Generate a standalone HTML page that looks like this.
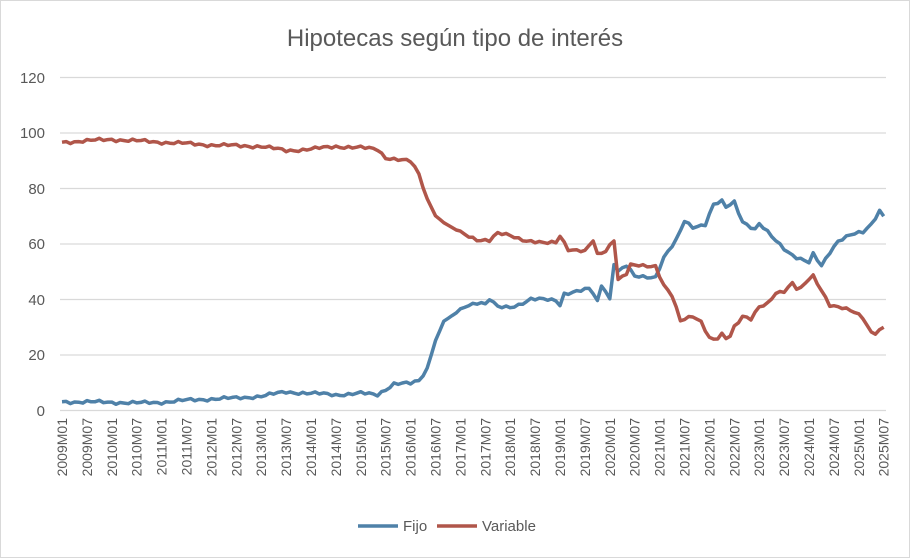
<!DOCTYPE html>
<html><head><meta charset="utf-8"><style>
body{margin:0;background:#fff;}
svg{display:block;font-family:"Liberation Sans",sans-serif;}
</style></head><body>
<svg id="s" width="910" height="558" xmlns="http://www.w3.org/2000/svg">
<rect x="0.5" y="0.5" width="909" height="557" fill="#fff" stroke="#d9d9d9"/>
<text x="455" y="46" text-anchor="middle" font-size="24" fill="#595959">Hipotecas según tipo de interés</text>
<g stroke="#d9d9d9" stroke-width="1.3">
<line x1="60" x2="886" y1="77.5" y2="77.5"/><line x1="60" x2="886" y1="133" y2="133"/>
<line x1="60" x2="886" y1="188.5" y2="188.5"/><line x1="60" x2="886" y1="244" y2="244"/>
<line x1="60" x2="886" y1="299.5" y2="299.5"/><line x1="60" x2="886" y1="355" y2="355"/>
<line x1="60" x2="886" y1="410.5" y2="410.5"/>
</g>
<g font-size="15" fill="#595959" text-anchor="end">
<text x="45" y="83">120</text><text x="45" y="138">100</text><text x="45" y="194">80</text>
<text x="45" y="249">60</text><text x="45" y="305">40</text><text x="45" y="360">20</text><text x="45" y="416">0</text>
</g>
<g id="xl" font-size="14" fill="#595959"></g>
<polyline id="f" fill="none" stroke="#4f81a8" stroke-width="3.5" stroke-linejoin="round"/>
<polyline id="v" fill="none" stroke="#b0564a" stroke-width="3.5" stroke-linejoin="round"/>
<line x1="358" x2="398" y1="526" y2="526" stroke="#4f81a8" stroke-width="3.5"/>
<text x="403" y="531" font-size="15" fill="#595959">Fijo</text>
<line x1="437" x2="477" y1="526" y2="526" stroke="#b0564a" stroke-width="3.5"/>
<text x="482" y="531" font-size="15" fill="#595959">Variable</text>
</svg>
<script>
var X=i=>62+4.15*i, Y=v=>410-2.775*v;
function interp(k){var out=[];for(var i=0;i<=198;i++){for(var j=0;j<k.length-1;j++){if(i>=k[j][0]&&i<=k[j+1][0]){var a=k[j],b=k[j+1],t=(b[0]==a[0])?0:(i-a[0])/(b[0]-a[0]);out.push(a[1]+(b[1]-a[1])*t);break;}}}return out;}
function noise(i,s){return Math.sin(i*2.3)*0.4*s+Math.sin(i*5.7)*0.3*s;}
var F=[[0,3],[12,2.8],[18,2.5],[24,2.8],[30,3.5],[36,4],[42,4.3],[48,5],[54,6.5],[60,6],[66,5.5],[72,6],[76,5.5],[80,9.5],[84,9.5],[86,10.5],[88,15],[90,25],[92,32],[96,36],[98,38],[101,39],[102,38],[103,40],[105,37],[108,37],[110,38],[113,40],[119,39.5],[120,38],[121,42],[125,43],[127,43.5],[128,42],[129,39],[130,45],[131,43],[132,40],[133,53],[134,50],[136,52],[138,48],[143,48],[145,55],[148,61],[150,68],[152,66],[155,67],[157,74],[159,75],[160,73],[162,75],[164,68],[167,65],[168,67],[172,61],[175,57],[177,55],[180,53],[181,56],[183,52],[185,57],[187,61],[190,63],[193,64],[195,67],[197,72],[198,70]];
var V=[[0,96.5],[6,97],[12,97.5],[24,96.5],[36,95.5],[48,95],[54,93.5],[60,94],[66,95],[72,94.5],[76,94],[78,91],[84,89.5],[86,85],[88,76],[90,70],[92,67.5],[96,64],[100,61.5],[103,61],[105,63.5],[108,63],[112,61],[116,60],[119,60.5],[120,63],[122,58],[126,57],[128,61],[129,56],[131,57.5],[133,61.5],[134,47],[136,49],[137,52],[139,52],[143,52],[145,45],[147,41],[149,32],[152,34],[154,32],[156,26],[157.5,25],[159,27],[160.5,25],[162,30],[164,34],[166,33],[168,37],[170,38],[172,42],[174,43],[176,46],[177.5,43],[180,47],[181,48],[183,43],[185,38],[188,37],[191,35],[193,33],[195,28],[196,28],[198,30]];
function pts(k,s){var d=interp(k);return d.map((v,i)=>X(i).toFixed(1)+","+Y(v+((i>88&&i<96)?0:noise(i,s))).toFixed(1)).join(" ");}
document.getElementById('f').setAttribute('points',pts(F,1));
document.getElementById('v').setAttribute('points',pts(V,1));
var g=document.getElementById('xl'),h='';
for(var n=0;n<34;n++){var y=2009+Math.floor(n/2),m=n%2?'M07':'M01',x=X(n*6)+5;
h+='<text transform="translate('+x.toFixed(1)+',418) rotate(-90)" text-anchor="end">'+y+m+'</text>';}
g.innerHTML=h;
</script>
</body></html>
